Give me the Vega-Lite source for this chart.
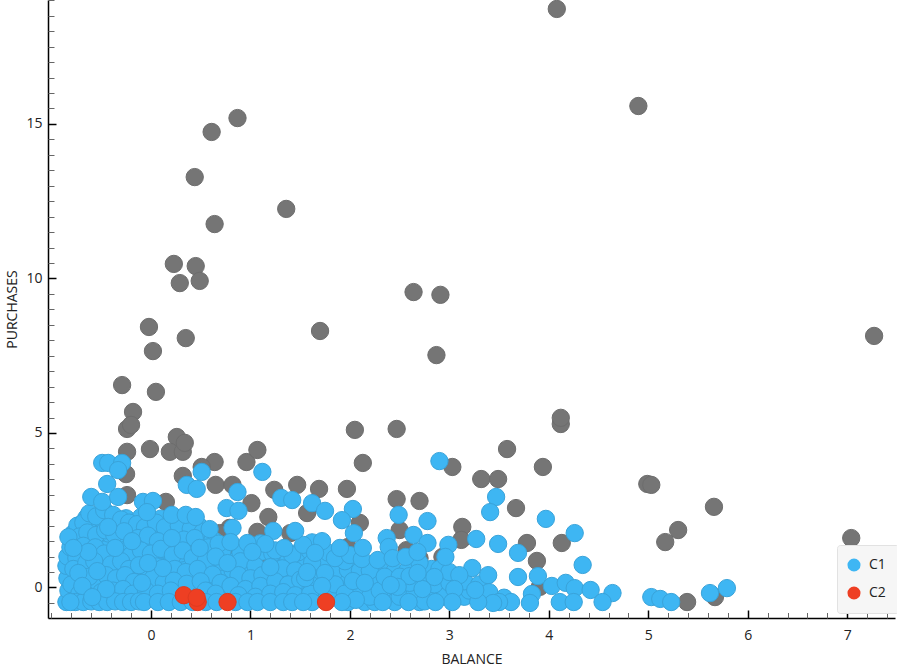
{
  "$schema": "https://vega.github.io/schema/vega-lite/v6.json",
  "description": "Scatter plot of BALANCE against PURCHASES by cluster.",
  "width": 847,
  "height": 618,
  "autosize": "none",
  "padding": {"left": 48, "top": 0, "right": 2, "bottom": 48},
  "background": "white",
  "config": {
    "view": {"stroke": null},
    "font": "Open Sans"
  },
  "datasets": {
    "points": [
      {"b":4.08,"p":18.72,"c":"C0"},{"b":4.90,"p":15.58,"c":"C0"},{"b":0.87,"p":15.19,"c":"C0"},{"b":0.61,"p":14.74,"c":"C0"},{"b":0.44,"p":13.28,"c":"C0"},{"b":1.36,"p":12.25,"c":"C0"},{"b":0.64,"p":11.76,"c":"C0"},{"b":0.23,"p":10.47,"c":"C0"},{"b":0.45,"p":10.40,"c":"C0"},{"b":0.29,"p":9.85,"c":"C0"},{"b":0.49,"p":9.92,"c":"C0"},{"b":2.64,"p":9.56,"c":"C0"},{"b":2.91,"p":9.47,"c":"C0"},{"b":1.70,"p":8.30,"c":"C0"},{"b":-0.02,"p":8.43,"c":"C0"},{"b":0.02,"p":7.65,"c":"C0"},{"b":0.35,"p":8.07,"c":"C0"},{"b":2.87,"p":7.52,"c":"C0"},{"b":7.27,"p":8.14,"c":"C0"},{"b":-0.29,"p":6.55,"c":"C0"},{"b":0.05,"p":6.33,"c":"C0"},{"b":-0.18,"p":5.68,"c":"C0"},{"b":-0.24,"p":5.13,"c":"C0"},{"b":-0.20,"p":5.26,"c":"C0"},{"b":4.12,"p":5.29,"c":"C0"},{"b":4.12,"p":5.49,"c":"C0"},{"b":2.05,"p":5.10,"c":"C0"},{"b":2.47,"p":5.13,"c":"C0"},{"b":-0.24,"p":4.39,"c":"C0"},{"b":-0.01,"p":4.48,"c":"C0"},{"b":0.26,"p":4.87,"c":"C0"},{"b":0.19,"p":4.39,"c":"C0"},{"b":0.32,"p":4.39,"c":"C0"},{"b":0.34,"p":4.68,"c":"C0"},{"b":0.64,"p":4.06,"c":"C0"},{"b":0.51,"p":3.90,"c":"C0"},{"b":0.96,"p":4.06,"c":"C0"},{"b":1.07,"p":4.45,"c":"C0"},{"b":2.13,"p":4.03,"c":"C0"},{"b":3.58,"p":4.48,"c":"C0"},{"b":3.03,"p":3.90,"c":"C0"},{"b":3.94,"p":3.90,"c":"C0"},{"b":3.32,"p":3.51,"c":"C0"},{"b":3.49,"p":3.51,"c":"C0"},{"b":-0.25,"p":3.67,"c":"C0"},{"b":0.32,"p":3.61,"c":"C0"},{"b":0.65,"p":3.32,"c":"C0"},{"b":0.82,"p":3.32,"c":"C0"},{"b":-0.24,"p":2.99,"c":"C0"},{"b":0.15,"p":2.77,"c":"C0"},{"b":1.01,"p":2.73,"c":"C0"},{"b":1.18,"p":2.28,"c":"C0"},{"b":1.24,"p":3.16,"c":"C0"},{"b":1.47,"p":3.32,"c":"C0"},{"b":1.69,"p":3.19,"c":"C0"},{"b":1.97,"p":3.19,"c":"C0"},{"b":2.47,"p":2.86,"c":"C0"},{"b":2.70,"p":2.80,"c":"C0"},{"b":3.67,"p":2.57,"c":"C0"},{"b":4.99,"p":3.35,"c":"C0"},{"b":5.03,"p":3.32,"c":"C0"},{"b":5.66,"p":2.61,"c":"C0"},{"b":5.30,"p":1.86,"c":"C0"},{"b":5.17,"p":1.47,"c":"C0"},{"b":7.04,"p":1.60,"c":"C0"},{"b":4.13,"p":1.44,"c":"C0"},{"b":3.88,"p":0.86,"c":"C0"},{"b":3.78,"p":1.44,"c":"C0"},{"b":3.13,"p":1.96,"c":"C0"},{"b":3.12,"p":1.54,"c":"C0"},{"b":2.10,"p":2.09,"c":"C0"},{"b":2.50,"p":1.86,"c":"C0"},{"b":2.93,"p":0.99,"c":"C0"},{"b":2.70,"p":0.95,"c":"C0"},{"b":2.57,"p":1.21,"c":"C0"},{"b":1.57,"p":2.41,"c":"C0"},{"b":1.98,"p":1.31,"c":"C0"},{"b":3.91,"p":0.02,"c":"C0"},{"b":5.39,"p":-0.47,"c":"C0"},{"b":5.67,"p":-0.31,"c":"C0"},{"b":1.07,"p":1.80,"c":"C0"},{"b":0.79,"p":1.93,"c":"C0"},{"b":0.69,"p":1.76,"c":"C0"},{"b":1.40,"p":1.76,"c":"C0"},{"b":1.13,"p":0.99,"c":"C0"},{"b":0.82,"p":1.21,"c":"C0"},

      {"b":-0.78,"p":-0.32,"c":"C1"},{"b":-0.65,"p":-0.30,"c":"C1"},{"b":-0.42,"p":-0.33,"c":"C1"},{"b":-0.3,"p":-0.30,"c":"C1"},{"b":-0.1,"p":-0.34,"c":"C1"},{"b":0.0,"p":-0.31,"c":"C1"},{"b":0.12,"p":-0.33,"c":"C1"},{"b":0.25,"p":-0.3,"c":"C1"},{"b":0.58,"p":-0.32,"c":"C1"},{"b":0.72,"p":-0.3,"c":"C1"},{"b":0.95,"p":-0.34,"c":"C1"},{"b":1.12,"p":-0.31,"c":"C1"},{"b":1.28,"p":-0.33,"c":"C1"},{"b":1.4,"p":-0.3,"c":"C1"},{"b":1.55,"p":-0.32,"c":"C1"},{"b":1.68,"p":-0.3,"c":"C1"},{"b":1.8,"p":-0.34,"c":"C1"},{"b":2.1,"p":-0.3,"c":"C1"},{"b":2.3,"p":-0.32,"c":"C1"},{"b":2.42,"p":-0.28,"c":"C1"},{"b":2.6,"p":-0.33,"c":"C1"},{"b":2.8,"p":-0.3,"c":"C1"},{"b":3.05,"p":-0.32,"c":"C1"},{"b":3.3,"p":-0.3,"c":"C1"},{"b":3.55,"p":-0.33,"c":"C1"},
      {"b":-0.8,"p":-0.05,"c":"C1"},{"b":-0.58,"p":-0.02,"c":"C1"},{"b":-0.33,"p":-0.08,"c":"C1"},{"b":-0.2,"p":-0.03,"c":"C1"},{"b":-0.12,"p":-0.06,"c":"C1"},{"b":0.05,"p":-0.02,"c":"C1"},{"b":0.15,"p":-0.07,"c":"C1"},{"b":0.3,"p":-0.03,"c":"C1"},{"b":0.42,"p":-0.06,"c":"C1"},{"b":0.62,"p":-0.02,"c":"C1"},{"b":0.72,"p":-0.08,"c":"C1"},{"b":0.88,"p":-0.03,"c":"C1"},{"b":1.02,"p":-0.06,"c":"C1"},{"b":1.18,"p":-0.02,"c":"C1"},{"b":1.3,"p":-0.07,"c":"C1"},{"b":1.45,"p":-0.03,"c":"C1"},{"b":1.62,"p":-0.06,"c":"C1"},{"b":1.8,"p":-0.02,"c":"C1"},{"b":1.95,"p":-0.08,"c":"C1"},{"b":2.1,"p":-0.03,"c":"C1"},{"b":2.25,"p":-0.06,"c":"C1"},{"b":2.55,"p":-0.02,"c":"C1"},{"b":2.85,"p":-0.07,"c":"C1"},{"b":3.12,"p":-0.03,"c":"C1"},
      {"b":-0.75,"p":0.25,"c":"C1"},{"b":-0.55,"p":0.22,"c":"C1"},{"b":-0.4,"p":0.27,"c":"C1"},{"b":-0.3,"p":0.24,"c":"C1"},{"b":-0.15,"p":0.28,"c":"C1"},{"b":-0.02,"p":0.23,"c":"C1"},{"b":0.08,"p":0.26,"c":"C1"},{"b":0.18,"p":0.3,"c":"C1"},{"b":0.3,"p":0.24,"c":"C1"},{"b":0.42,"p":0.27,"c":"C1"},{"b":0.55,"p":0.23,"c":"C1"},{"b":0.65,"p":0.28,"c":"C1"},{"b":0.78,"p":0.25,"c":"C1"},{"b":0.92,"p":0.22,"c":"C1"},{"b":1.08,"p":0.27,"c":"C1"},{"b":1.18,"p":0.24,"c":"C1"},{"b":1.32,"p":0.28,"c":"C1"},{"b":1.45,"p":0.23,"c":"C1"},{"b":1.65,"p":0.26,"c":"C1"},{"b":1.85,"p":0.3,"c":"C1"},{"b":1.95,"p":0.24,"c":"C1"},{"b":2.12,"p":0.27,"c":"C1"},{"b":2.3,"p":0.23,"c":"C1"},{"b":2.45,"p":0.28,"c":"C1"},{"b":2.75,"p":0.25,"c":"C1"},{"b":2.95,"p":0.22,"c":"C1"},
      {"b":-0.82,"p":0.55,"c":"C1"},{"b":-0.65,"p":0.52,"c":"C1"},{"b":-0.45,"p":0.57,"c":"C1"},{"b":-0.32,"p":0.54,"c":"C1"},{"b":-0.2,"p":0.58,"c":"C1"},{"b":-0.05,"p":0.53,"c":"C1"},{"b":0.05,"p":0.56,"c":"C1"},{"b":0.2,"p":0.5,"c":"C1"},{"b":0.32,"p":0.57,"c":"C1"},{"b":0.42,"p":0.52,"c":"C1"},{"b":0.55,"p":0.58,"c":"C1"},{"b":0.7,"p":0.53,"c":"C1"},{"b":0.82,"p":0.56,"c":"C1"},{"b":0.95,"p":0.6,"c":"C1"},{"b":1.1,"p":0.54,"c":"C1"},{"b":1.28,"p":0.57,"c":"C1"},{"b":1.42,"p":0.53,"c":"C1"},{"b":1.55,"p":0.58,"c":"C1"},{"b":1.7,"p":0.55,"c":"C1"},{"b":1.85,"p":0.52,"c":"C1"},{"b":1.98,"p":0.57,"c":"C1"},{"b":2.1,"p":0.54,"c":"C1"},{"b":2.3,"p":0.58,"c":"C1"},{"b":2.45,"p":0.53,"c":"C1"},{"b":2.58,"p":0.56,"c":"C1"},{"b":2.82,"p":0.6,"c":"C1"},
      {"b":-0.7,"p":0.85,"c":"C1"},{"b":-0.5,"p":0.82,"c":"C1"},{"b":-0.35,"p":0.87,"c":"C1"},{"b":-0.25,"p":0.84,"c":"C1"},{"b":-0.1,"p":0.88,"c":"C1"},{"b":0.03,"p":0.83,"c":"C1"},{"b":0.15,"p":0.86,"c":"C1"},{"b":0.3,"p":0.8,"c":"C1"},{"b":0.38,"p":0.87,"c":"C1"},{"b":0.5,"p":0.82,"c":"C1"},{"b":0.62,"p":0.88,"c":"C1"},{"b":0.72,"p":0.83,"c":"C1"},{"b":0.85,"p":0.86,"c":"C1"},{"b":1.0,"p":0.9,"c":"C1"},{"b":1.25,"p":0.84,"c":"C1"},{"b":1.38,"p":0.87,"c":"C1"},{"b":1.52,"p":0.83,"c":"C1"},{"b":1.72,"p":0.88,"c":"C1"},{"b":1.95,"p":0.85,"c":"C1"},
      {"b":-0.72,"p":1.15,"c":"C1"},{"b":-0.55,"p":1.12,"c":"C1"},{"b":-0.42,"p":1.17,"c":"C1"},{"b":-0.15,"p":1.14,"c":"C1"},{"b":-0.05,"p":1.18,"c":"C1"},{"b":0.05,"p":1.13,"c":"C1"},{"b":0.18,"p":1.16,"c":"C1"},{"b":0.3,"p":1.1,"c":"C1"},{"b":0.4,"p":1.17,"c":"C1"},{"b":0.55,"p":1.12,"c":"C1"},{"b":0.72,"p":1.18,"c":"C1"},{"b":0.9,"p":1.13,"c":"C1"},{"b":1.12,"p":1.16,"c":"C1"},{"b":1.22,"p":1.1,"c":"C1"},{"b":1.48,"p":1.14,"c":"C1"},{"b":1.6,"p":1.17,"c":"C1"},{"b":1.78,"p":1.13,"c":"C1"},
      {"b":-0.76,"p":1.45,"c":"C1"},{"b":-0.6,"p":1.42,"c":"C1"},{"b":-0.48,"p":1.47,"c":"C1"},{"b":-0.3,"p":1.44,"c":"C1"},{"b":-0.08,"p":1.48,"c":"C1"},{"b":0.02,"p":1.43,"c":"C1"},{"b":0.15,"p":1.46,"c":"C1"},{"b":0.28,"p":1.4,"c":"C1"},{"b":0.4,"p":1.47,"c":"C1"},{"b":0.52,"p":1.42,"c":"C1"},{"b":0.65,"p":1.48,"c":"C1"},{"b":1.1,"p":1.43,"c":"C1"},{"b":1.62,"p":1.46,"c":"C1"},
      {"b":-0.78,"p":1.75,"c":"C1"},{"b":-0.68,"p":1.72,"c":"C1"},{"b":-0.5,"p":1.77,"c":"C1"},{"b":-0.42,"p":1.74,"c":"C1"},{"b":-0.2,"p":1.78,"c":"C1"},{"b":-0.08,"p":1.73,"c":"C1"},{"b":0.1,"p":1.76,"c":"C1"},{"b":0.25,"p":1.7,"c":"C1"},{"b":0.38,"p":1.77,"c":"C1"},{"b":0.5,"p":1.72,"c":"C1"},
      {"b":-0.7,"p":2.05,"c":"C1"},{"b":-0.6,"p":2.02,"c":"C1"},{"b":-0.52,"p":2.07,"c":"C1"},{"b":-0.35,"p":2.04,"c":"C1"},{"b":-0.15,"p":2.08,"c":"C1"},{"b":0.2,"p":2.03,"c":"C1"},{"b":0.35,"p":2.06,"c":"C1"},{"b":0.48,"p":2.0,"c":"C1"},
      {"b":-0.65,"p":2.25,"c":"C1"},{"b":-0.5,"p":2.22,"c":"C1"},{"b":-0.4,"p":2.27,"c":"C1"},{"b":-0.25,"p":2.24,"c":"C1"},{"b":-0.1,"p":2.28,"c":"C1"},{"b":0.1,"p":2.23,"c":"C1"},

      {"b":-0.85,"p":-0.47,"c":"C1"},{"b":-0.83,"p":-0.1,"c":"C1"},{"b":-0.84,"p":0.3,"c":"C1"},{"b":-0.85,"p":0.7,"c":"C1"},{"b":-0.84,"p":1.0,"c":"C1"},{"b":-0.81,"p":1.3,"c":"C1"},{"b":-0.74,"p":2.0,"c":"C1"},{"b":-0.68,"p":2.1,"c":"C1"},{"b":-0.62,"p":2.4,"c":"C1"},{"b":-0.55,"p":2.3,"c":"C1"},{"b":-0.47,"p":2.5,"c":"C1"},{"b":-0.38,"p":2.35,"c":"C1"},{"b":-0.3,"p":2.2,"c":"C1"},{"b":-0.22,"p":2.1,"c":"C1"},{"b":-0.14,"p":2.05,"c":"C1"},{"b":-0.06,"p":1.95,"c":"C1"},{"b":0.05,"p":2.1,"c":"C1"},{"b":0.14,"p":1.95,"c":"C1"},{"b":0.28,"p":2.0,"c":"C1"},{"b":0.4,"p":1.9,"c":"C1"},{"b":0.52,"p":1.8,"c":"C1"},{"b":0.62,"p":1.55,"c":"C1"},
      {"b":-0.72,"p":1.65,"c":"C1"},{"b":-0.64,"p":1.78,"c":"C1"},{"b":-0.55,"p":1.7,"c":"C1"},{"b":-0.46,"p":1.85,"c":"C1"},{"b":-0.37,"p":1.72,"c":"C1"},{"b":-0.27,"p":1.82,"c":"C1"},{"b":-0.13,"p":1.6,"c":"C1"},{"b":-0.03,"p":1.68,"c":"C1"},{"b":0.07,"p":1.5,"c":"C1"},{"b":0.33,"p":1.55,"c":"C1"},{"b":0.44,"p":1.6,"c":"C1"},{"b":0.58,"p":1.3,"c":"C1"},{"b":0.68,"p":1.42,"c":"C1"},
      {"b":-0.75,"p":0.95,"c":"C1"},{"b":-0.68,"p":1.35,"c":"C1"},{"b":-0.56,"p":1.3,"c":"C1"},{"b":-0.47,"p":1.1,"c":"C1"},{"b":-0.28,"p":1.2,"c":"C1"},{"b":-0.2,"p":1.05,"c":"C1"},{"b":-0.1,"p":1.2,"c":"C1"},{"b":0.0,"p":1.1,"c":"C1"},{"b":0.1,"p":1.25,"c":"C1"},{"b":0.22,"p":1.05,"c":"C1"},{"b":0.32,"p":1.2,"c":"C1"},{"b":0.42,"p":0.95,"c":"C1"},{"b":0.55,"p":0.85,"c":"C1"},{"b":0.65,"p":1.0,"c":"C1"},{"b":0.9,"p":0.85,"c":"C1"},{"b":1.05,"p":0.7,"c":"C1"},{"b":1.25,"p":1.2,"c":"C1"},{"b":1.42,"p":1.05,"c":"C1"},{"b":1.53,"p":1.38,"c":"C1"},{"b":1.72,"p":1.5,"c":"C1"},{"b":1.85,"p":0.95,"c":"C1"},{"b":2.0,"p":1.05,"c":"C1"},
      {"b":-0.78,"p":0.6,"c":"C1"},{"b":-0.65,"p":0.8,"c":"C1"},{"b":-0.57,"p":0.85,"c":"C1"},{"b":-0.4,"p":0.75,"c":"C1"},{"b":-0.3,"p":0.85,"c":"C1"},{"b":-0.22,"p":0.6,"c":"C1"},{"b":-0.12,"p":0.72,"c":"C1"},{"b":0.06,"p":0.68,"c":"C1"},{"b":0.24,"p":0.6,"c":"C1"},{"b":0.35,"p":0.5,"c":"C1"},{"b":0.47,"p":0.6,"c":"C1"},{"b":0.62,"p":0.42,"c":"C1"},{"b":0.88,"p":0.4,"c":"C1"},{"b":1.0,"p":0.3,"c":"C1"},{"b":1.12,"p":0.4,"c":"C1"},{"b":1.32,"p":0.62,"c":"C1"},{"b":1.45,"p":0.55,"c":"C1"},{"b":1.62,"p":0.8,"c":"C1"},
      {"b":-0.8,"p":0.1,"c":"C1"},{"b":-0.62,"p":0.35,"c":"C1"},{"b":-0.45,"p":0.4,"c":"C1"},{"b":-0.35,"p":0.3,"c":"C1"},{"b":-0.26,"p":0.4,"c":"C1"},{"b":-0.17,"p":0.18,"c":"C1"},{"b":0.02,"p":0.3,"c":"C1"},{"b":0.13,"p":0.15,"c":"C1"},{"b":0.23,"p":0.22,"c":"C1"},{"b":0.36,"p":0.12,"c":"C1"},{"b":0.5,"p":0.2,"c":"C1"},{"b":0.7,"p":0.15,"c":"C1"},{"b":0.8,"p":0.05,"c":"C1"},{"b":0.95,"p":-0.05,"c":"C1"},{"b":1.1,"p":0.05,"c":"C1"},{"b":1.25,"p":0.2,"c":"C1"},{"b":1.38,"p":0.1,"c":"C1"},{"b":1.5,"p":0.25,"c":"C1"},
      {"b":-0.72,"p":-0.2,"c":"C1"},{"b":-0.5,"p":-0.15,"c":"C1"},{"b":-0.38,"p":-0.1,"c":"C1"},{"b":-0.28,"p":-0.05,"c":"C1"},{"b":-0.18,"p":-0.2,"c":"C1"},{"b":-0.05,"p":-0.1,"c":"C1"},{"b":0.07,"p":-0.2,"c":"C1"},{"b":0.2,"p":-0.1,"c":"C1"},{"b":0.55,"p":-0.1,"c":"C1"},{"b":0.65,"p":-0.2,"c":"C1"},{"b":0.88,"p":-0.25,"c":"C1"},{"b":1.05,"p":-0.3,"c":"C1"},{"b":1.2,"p":-0.2,"c":"C1"},{"b":1.33,"p":-0.15,"c":"C1"},{"b":1.45,"p":-0.25,"c":"C1"},{"b":1.6,"p":-0.2,"c":"C1"},{"b":1.85,"p":-0.28,"c":"C1"},
      {"b":-0.76,"p":-0.47,"c":"C1"},{"b":-0.68,"p":-0.47,"c":"C1"},{"b":-0.6,"p":-0.45,"c":"C1"},{"b":-0.52,"p":-0.47,"c":"C1"},{"b":-0.44,"p":-0.47,"c":"C1"},{"b":-0.36,"p":-0.45,"c":"C1"},{"b":-0.28,"p":-0.47,"c":"C1"},{"b":-0.2,"p":-0.47,"c":"C1"},{"b":-0.12,"p":-0.45,"c":"C1"},{"b":-0.07,"p":-0.47,"c":"C1"},{"b":0.07,"p":-0.47,"c":"C1"},{"b":0.18,"p":-0.47,"c":"C1"},{"b":0.3,"p":-0.47,"c":"C1"},{"b":0.42,"p":-0.47,"c":"C1"},{"b":0.55,"p":-0.47,"c":"C1"},{"b":0.66,"p":-0.47,"c":"C1"},{"b":0.85,"p":-0.47,"c":"C1"},{"b":0.97,"p":-0.47,"c":"C1"},{"b":1.07,"p":-0.47,"c":"C1"},{"b":1.2,"p":-0.47,"c":"C1"},{"b":1.33,"p":-0.47,"c":"C1"},{"b":1.42,"p":-0.47,"c":"C1"},{"b":1.62,"p":-0.47,"c":"C1"},{"b":1.98,"p":-0.47,"c":"C1"},{"b":2.15,"p":-0.47,"c":"C1"},{"b":2.25,"p":-0.47,"c":"C1"},{"b":2.45,"p":-0.47,"c":"C1"},{"b":2.7,"p":-0.47,"c":"C1"},
      {"b":-0.49,"p":4.03,"c":"C1"},{"b":-0.43,"p":4.03,"c":"C1"},{"b":-0.29,"p":4.03,"c":"C1"},{"b":-0.33,"p":3.80,"c":"C1"},{"b":-0.44,"p":3.35,"c":"C1"},{"b":-0.60,"p":2.93,"c":"C1"},{"b":-0.49,"p":2.77,"c":"C1"},{"b":-0.33,"p":2.93,"c":"C1"},{"b":-0.08,"p":2.77,"c":"C1"},{"b":0.02,"p":2.80,"c":"C1"},{"b":-0.04,"p":2.44,"c":"C1"},{"b":0.21,"p":2.35,"c":"C1"},{"b":0.35,"p":2.35,"c":"C1"},{"b":0.45,"p":2.28,"c":"C1"},{"b":0.59,"p":1.89,"c":"C1"},{"b":0.51,"p":3.74,"c":"C1"},{"b":0.36,"p":3.32,"c":"C1"},{"b":0.46,"p":3.19,"c":"C1"},{"b":0.87,"p":3.09,"c":"C1"},{"b":0.76,"p":2.57,"c":"C1"},{"b":0.88,"p":2.48,"c":"C1"},{"b":1.12,"p":3.74,"c":"C1"},{"b":0.82,"p":1.93,"c":"C1"},{"b":0.80,"p":1.47,"c":"C1"},{"b":1.31,"p":2.90,"c":"C1"},{"b":1.42,"p":2.83,"c":"C1"},{"b":1.23,"p":1.83,"c":"C1"},{"b":1.45,"p":1.83,"c":"C1"},{"b":1.34,"p":1.28,"c":"C1"},{"b":1.15,"p":1.41,"c":"C1"},{"b":0.97,"p":1.44,"c":"C1"},{"b":1.02,"p":1.15,"c":"C1"},{"b":1.20,"p":0.66,"c":"C1"},{"b":0.77,"p":0.79,"c":"C1"},{"b":0.49,"p":1.28,"c":"C1"},{"b":0.21,"p":1.60,"c":"C1"},{"b":-0.19,"p":1.50,"c":"C1"},{"b":-0.43,"p":1.96,"c":"C1"},{"b":-0.83,"p":1.63,"c":"C1"},{"b":-0.63,"p":1.15,"c":"C1"},{"b":-0.78,"p":1.28,"c":"C1"},{"b":-0.36,"p":1.28,"c":"C1"},{"b":-0.73,"p":0.47,"c":"C1"},{"b":-0.54,"p":0.53,"c":"C1"},{"b":-0.69,"p":0.05,"c":"C1"},{"b":-0.45,"p":-0.05,"c":"C1"},{"b":-0.59,"p":-0.31,"c":"C1"},{"b":-0.81,"p":-0.47,"c":"C1"},{"b":-0.09,"p":0.15,"c":"C1"},{"b":0.12,"p":0.63,"c":"C1"},{"b":-0.03,"p":0.79,"c":"C1"},
      {"b":1.55,"p":0.3,"c":"C1"},{"b":1.85,"p":0.1,"c":"C1"},{"b":1.95,"p":-0.2,"c":"C1"},{"b":2.2,"p":-0.3,"c":"C1"},{"b":2.25,"p":0.2,"c":"C1"},{"b":2.3,"p":-0.1,"c":"C1"},{"b":2.5,"p":-0.3,"c":"C1"},{"b":2.65,"p":-0.2,"c":"C1"},{"b":2.75,"p":-0.45,"c":"C1"},{"b":2.95,"p":-0.3,"c":"C1"},{"b":3.15,"p":-0.3,"c":"C1"},{"b":3.2,"p":-0.1,"c":"C1"},{"b":2.6,"p":0.15,"c":"C1"},{"b":2.85,"p":0.1,"c":"C1"},{"b":3.0,"p":0.15,"c":"C1"},{"b":3.15,"p":0.2,"c":"C1"},{"b":3.3,"p":0.1,"c":"C1"},{"b":2.2,"p":0.55,"c":"C1"},{"b":2.35,"p":0.35,"c":"C1"},{"b":2.5,"p":0.35,"c":"C1"},{"b":2.9,"p":0.6,"c":"C1"},{"b":3.0,"p":0.5,"c":"C1"},{"b":2.7,"p":0.8,"c":"C1"},
      {"b":2.90,"p":4.09,"c":"C1"},{"b":3.47,"p":2.93,"c":"C1"},{"b":3.41,"p":2.44,"c":"C1"},{"b":3.97,"p":2.22,"c":"C1"},{"b":4.26,"p":1.76,"c":"C1"},{"b":3.49,"p":1.41,"c":"C1"},{"b":3.69,"p":1.12,"c":"C1"},{"b":4.34,"p":0.73,"c":"C1"},{"b":3.69,"p":0.34,"c":"C1"},{"b":3.89,"p":0.37,"c":"C1"},{"b":3.27,"p":1.57,"c":"C1"},{"b":2.78,"p":2.15,"c":"C1"},{"b":2.49,"p":2.35,"c":"C1"},{"b":1.62,"p":2.73,"c":"C1"},{"b":1.75,"p":2.48,"c":"C1"},{"b":2.03,"p":2.54,"c":"C1"},{"b":1.92,"p":2.18,"c":"C1"},{"b":2.04,"p":1.76,"c":"C1"},{"b":2.37,"p":1.60,"c":"C1"},{"b":2.39,"p":1.31,"c":"C1"},{"b":2.64,"p":1.70,"c":"C1"},{"b":2.78,"p":1.44,"c":"C1"},{"b":2.99,"p":1.38,"c":"C1"},{"b":2.96,"p":0.99,"c":"C1"},{"b":3.23,"p":0.63,"c":"C1"},{"b":3.39,"p":0.40,"c":"C1"},{"b":3.10,"p":0.40,"c":"C1"},{"b":2.60,"p":0.37,"c":"C1"},{"b":2.85,"p":0.34,"c":"C1"},{"b":2.48,"p":0.02,"c":"C1"},{"b":2.73,"p":-0.05,"c":"C1"},{"b":3.05,"p":-0.05,"c":"C1"},{"b":3.40,"p":-0.15,"c":"C1"},{"b":3.83,"p":-0.21,"c":"C1"},{"b":4.03,"p":0.05,"c":"C1"},{"b":4.17,"p":0.15,"c":"C1"},{"b":4.26,"p":-0.02,"c":"C1"},{"b":4.42,"p":-0.08,"c":"C1"},{"b":4.11,"p":-0.47,"c":"C1"},{"b":4.25,"p":-0.47,"c":"C1"},{"b":3.81,"p":-0.50,"c":"C1"},{"b":3.62,"p":-0.47,"c":"C1"},{"b":3.50,"p":-0.47,"c":"C1"},{"b":3.44,"p":-0.50,"c":"C1"},{"b":3.29,"p":-0.47,"c":"C1"},{"b":3.03,"p":-0.47,"c":"C1"},{"b":2.86,"p":-0.47,"c":"C1"},{"b":2.59,"p":-0.47,"c":"C1"},{"b":2.33,"p":-0.47,"c":"C1"},{"b":2.06,"p":-0.40,"c":"C1"},{"b":1.92,"p":-0.47,"c":"C1"},{"b":1.53,"p":-0.47,"c":"C1"},{"b":2.12,"p":0.92,"c":"C1"},{"b":2.28,"p":0.89,"c":"C1"},{"b":2.43,"p":0.95,"c":"C1"},{"b":2.56,"p":0.99,"c":"C1"},{"b":2.68,"p":1.15,"c":"C1"},{"b":1.65,"p":1.12,"c":"C1"},{"b":1.90,"p":1.28,"c":"C1"},{"b":2.13,"p":1.28,"c":"C1"},{"b":1.75,"p":0.47,"c":"C1"},{"b":1.57,"p":0.50,"c":"C1"},{"b":1.72,"p":0.05,"c":"C1"},{"b":2.03,"p":0.21,"c":"C1"},{"b":2.15,"p":0.15,"c":"C1"},{"b":2.41,"p":0.08,"c":"C1"},{"b":2.68,"p":0.47,"c":"C1"},{"b":3.26,"p":-0.08,"c":"C1"},{"b":4.64,"p":-0.18,"c":"C1"},{"b":4.54,"p":-0.47,"c":"C1"},{"b":5.03,"p":-0.31,"c":"C1"},{"b":5.12,"p":-0.37,"c":"C1"},{"b":5.23,"p":-0.47,"c":"C1"},{"b":5.62,"p":-0.18,"c":"C1"},{"b":5.79,"p":-0.02,"c":"C1"},

      {"b":0.33,"p":-0.25,"c":"C2"},{"b":0.47,"p":-0.47,"c":"C2"},{"b":0.46,"p":-0.33,"c":"C2"},{"b":0.77,"p":-0.47,"c":"C2"},{"b":1.76,"p":-0.47,"c":"C2"}
    ]
  },
  "layer": [
    {
      "data": {"name": "points"},
      "mark": {"type": "point", "filled": true, "size": 300, "strokeWidth": 1, "opacity": 1, "clip": true},
      "encoding": {
        "x": {
          "field": "b",
          "type": "quantitative",
          "scale": {"domain": [-1.035, 7.48], "nice": false, "zero": false},
          "axis": {
            "title": "BALANCE",
            "orient": "bottom",
            "values": [0, 1, 2, 3, 4, 5, 6, 7],
            "grid": false,
            "domainColor": "#000000",
            "domainWidth": 1.5,
            "tickColor": "#000000",
            "tickWidth": 1.5,
            "tickSize": -8,
            "labelPadding": 18,
            "labelFontSize": 14,
            "labelColor": "#222222",
            "labelFont": "Open Sans",
            "titleFont": "Open Sans",
            "titleFontSize": 14,
            "titleFontWeight": "normal",
            "titleColor": "#222222",
            "titlePadding": 10
          }
        },
        "y": {
          "field": "p",
          "type": "quantitative",
          "scale": {"domain": [-0.987, 19.01], "nice": false, "zero": false},
          "axis": {
            "title": "PURCHASES",
            "orient": "left",
            "values": [0, 5, 10, 15],
            "grid": false,
            "domainColor": "#000000",
            "domainWidth": 1.5,
            "tickColor": "#000000",
            "tickWidth": 1.5,
            "tickSize": -8,
            "labelPadding": 14,
            "labelFontSize": 14,
            "labelColor": "#222222",
            "labelFont": "Open Sans",
            "titleFont": "Open Sans",
            "titleFontSize": 14,
            "titleFontWeight": "normal",
            "titleColor": "#222222",
            "titlePadding": 6
          }
        },
        "color": {
          "field": "c",
          "type": "nominal",
          "scale": {"domain": ["C0", "C1", "C2"], "range": ["#757575", "#3EB6F3", "#EE3F23"]},
          "legend": {
            "values": ["C1", "C2"],
            "title": null,
            "orient": "none",
            "legendX": 789,
            "legendY": 545,
            "padding": 13,
            "symbolOffset": -3,
            "symbolType": "circle",
            "symbolSize": 170,
            "labelOffset": 8,
            "rowPadding": 14,
            "labelFontSize": 14,
            "labelFont": "Open Sans",
            "labelColor": "#222222",
            "fillColor": "#f6f6f6",
            "strokeColor": "#e2e2e2",
            "cornerRadius": 3,
            "symbolStrokeWidth": 0
          }
        },
        "stroke": {
          "field": "c",
          "type": "nominal",
          "scale": {"domain": ["C0", "C1", "C2"], "range": ["#6d6d6d", "#39A3DA", "#DE3A20"]},
          "legend": null
        }
      }
    },
    {
      "data": {"values": []},
      "mark": {"type": "point"},
      "encoding": {
        "x": {
          "field": "b",
          "type": "quantitative",
          "axis": {
            "title": null,
            "orient": "bottom",
            "labels": false,
            "domain": false,
            "grid": false,
            "tickColor": "#666666",
            "tickWidth": 1,
            "tickSize": -5.5,
            "values": [-1, -0.8, -0.6, -0.4, -0.2, 0.2, 0.4, 0.6, 0.8, 1.2, 1.4, 1.6, 1.8, 2.2, 2.4, 2.6, 2.8, 3.2, 3.4, 3.6, 3.8, 4.2, 4.4, 4.6, 4.8, 5.2, 5.4, 5.6, 5.8, 6.2, 6.4, 6.6, 6.8, 7.2, 7.4]
          }
        },
        "y": {
          "field": "p",
          "type": "quantitative",
          "axis": {
            "title": null,
            "orient": "left",
            "labels": false,
            "domain": false,
            "grid": false,
            "tickColor": "#666666",
            "tickWidth": 1,
            "tickSize": -6,
            "values": [-0.5, 0.5, 1, 1.5, 2, 2.5, 3, 3.5, 4, 4.5, 5.5, 6, 6.5, 7, 7.5, 8, 8.5, 9, 9.5, 10.5, 11, 11.5, 12, 12.5, 13, 13.5, 14, 14.5, 15.5, 16, 16.5, 17, 17.5, 18, 18.5, 19]
          }
        }
      }
    }
  ],
  "resolve": {"axis": {"x": "independent", "y": "independent"}}
}
